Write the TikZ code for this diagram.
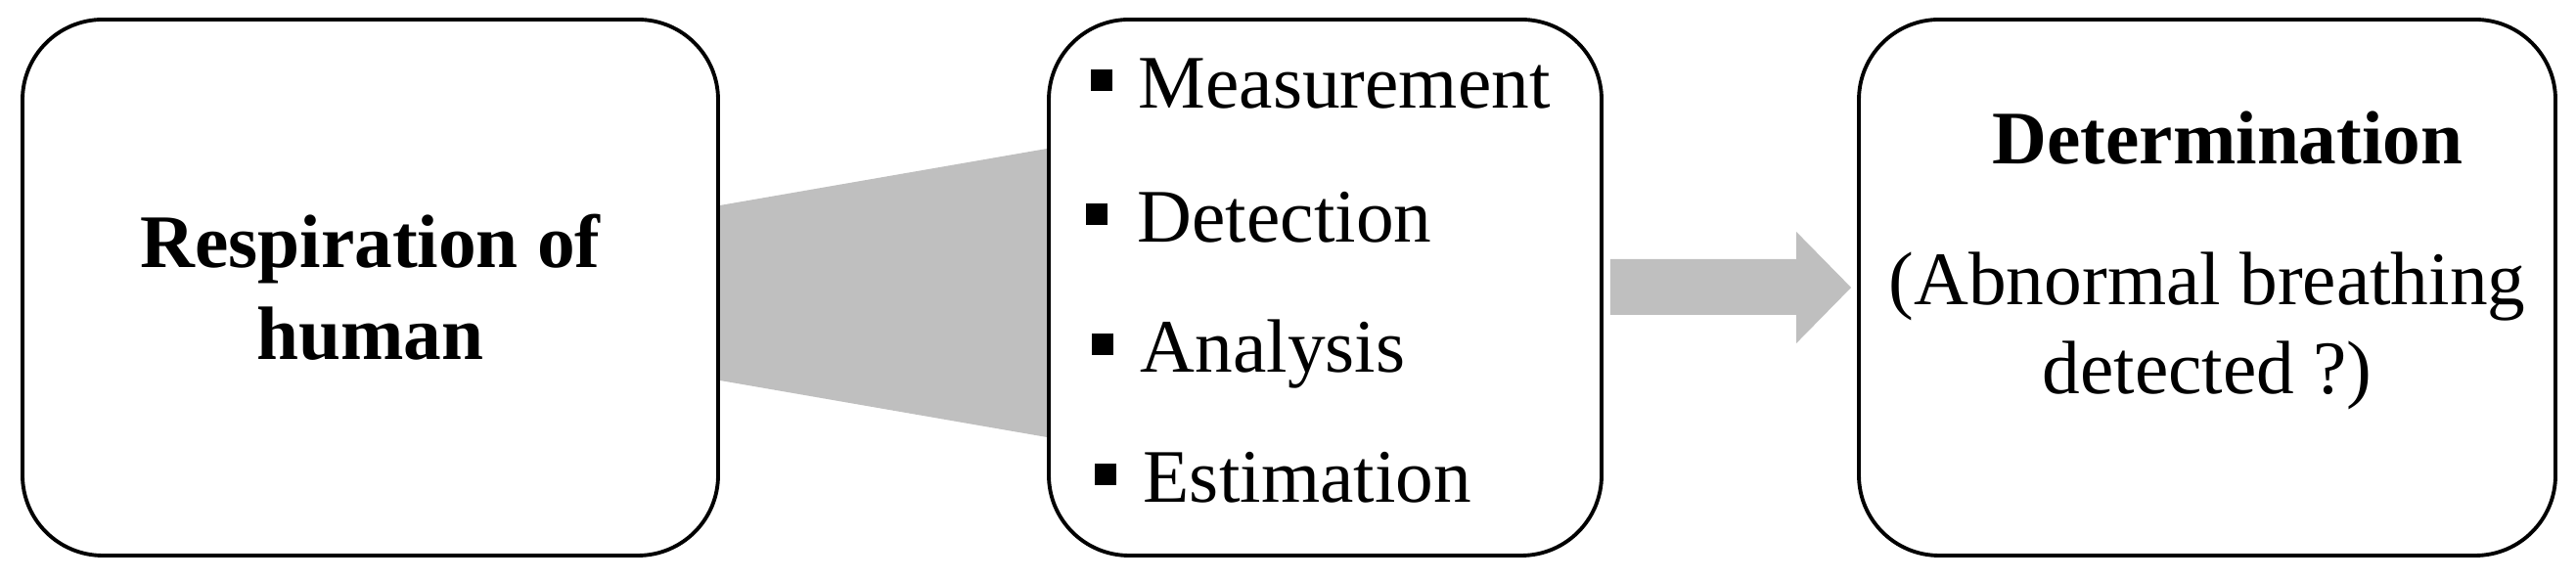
\documentclass[tikz,border=0pt]{standalone}
\usepackage{fontspec}
\setmainfont{Liberation Serif}
\definecolor{ArrowGray}{RGB}{191,191,191}
\usetikzlibrary{calc, backgrounds}

\begin{document}
\begin{tikzpicture}[
    stagebox/.style={draw, line width=1.1pt, rounded corners=0.82cm, fill=white,
      minimum height=5.48cm, inner sep=0pt},
    bigtext/.style={font=\fontsize{22}{26.7}\selectfont, inner sep=0pt},
    boldtext/.style={font=\fontsize{22}{26.7}\selectfont\bfseries, inner sep=0pt},
    bullet/.style={fill=black, minimum size=0.22cm, inner sep=0pt}]
  \useasboundingbox (0,0) rectangle (26.33,5.93);

  \node[stagebox, boldtext, align=center, minimum width=7.11cm] (resp) at (3.785,2.99)
        {Respiration of\\human};
  \node[stagebox, minimum width=5.65cm] (steps) at (13.545,2.99) {};
  \node[stagebox, minimum width=7.12cm] (judge) at (22.56,2.99) {};

  % list of processing steps
  \foreach \lbl/\bx/\tx/\y [count=\i] in {Measurement/11.26/11.63/4.82,
      Detection/11.21/11.62/3.45, Analysis/11.27/11.65/2.12, Estimation/11.30/11.68/0.79}
  {
    \node[bullet] (dot\i) at (\bx,\y+0.29) {};
    \node[bigtext, anchor=base west] (item\i) at (\tx,\y) {\lbl};
  }

  \node[boldtext, anchor=base] (detname) at (22.77,4.25) {Determination};
  \node[bigtext, anchor=base] (detq1) at (22.56,2.81) {(Abnormal breathing};
  \node[bigtext, anchor=base] (detq2) at (22.56,1.90) {detected ?)};

  % funnel between first two boxes
  \begin{scope}[on background layer]
    \fill[ArrowGray] ($(resp.east)+(0,0.84)$) -- ($(steps.west)+(0,1.42)$)
          -- ($(steps.west)+(0,-1.53)$) -- ($(resp.east)+(0,-0.95)$) -- cycle;
  \end{scope}

  % block arrow
  \path (steps.east) ++(0.07,0) coordinate (a0) (judge.west) ++(-0.06,0) coordinate (a1);
  \fill[ArrowGray] ($(a0)+(0,0.29)$) -- ($(a1)+(-0.56,0.29)$) -- ($(a1)+(-0.56,0.57)$)
        -- (a1) -- ($(a1)+(-0.56,-0.57)$) -- ($(a1)+(-0.56,-0.28)$)
        -- ($(a0)+(0,-0.28)$) -- cycle;
\end{tikzpicture}
\end{document}
